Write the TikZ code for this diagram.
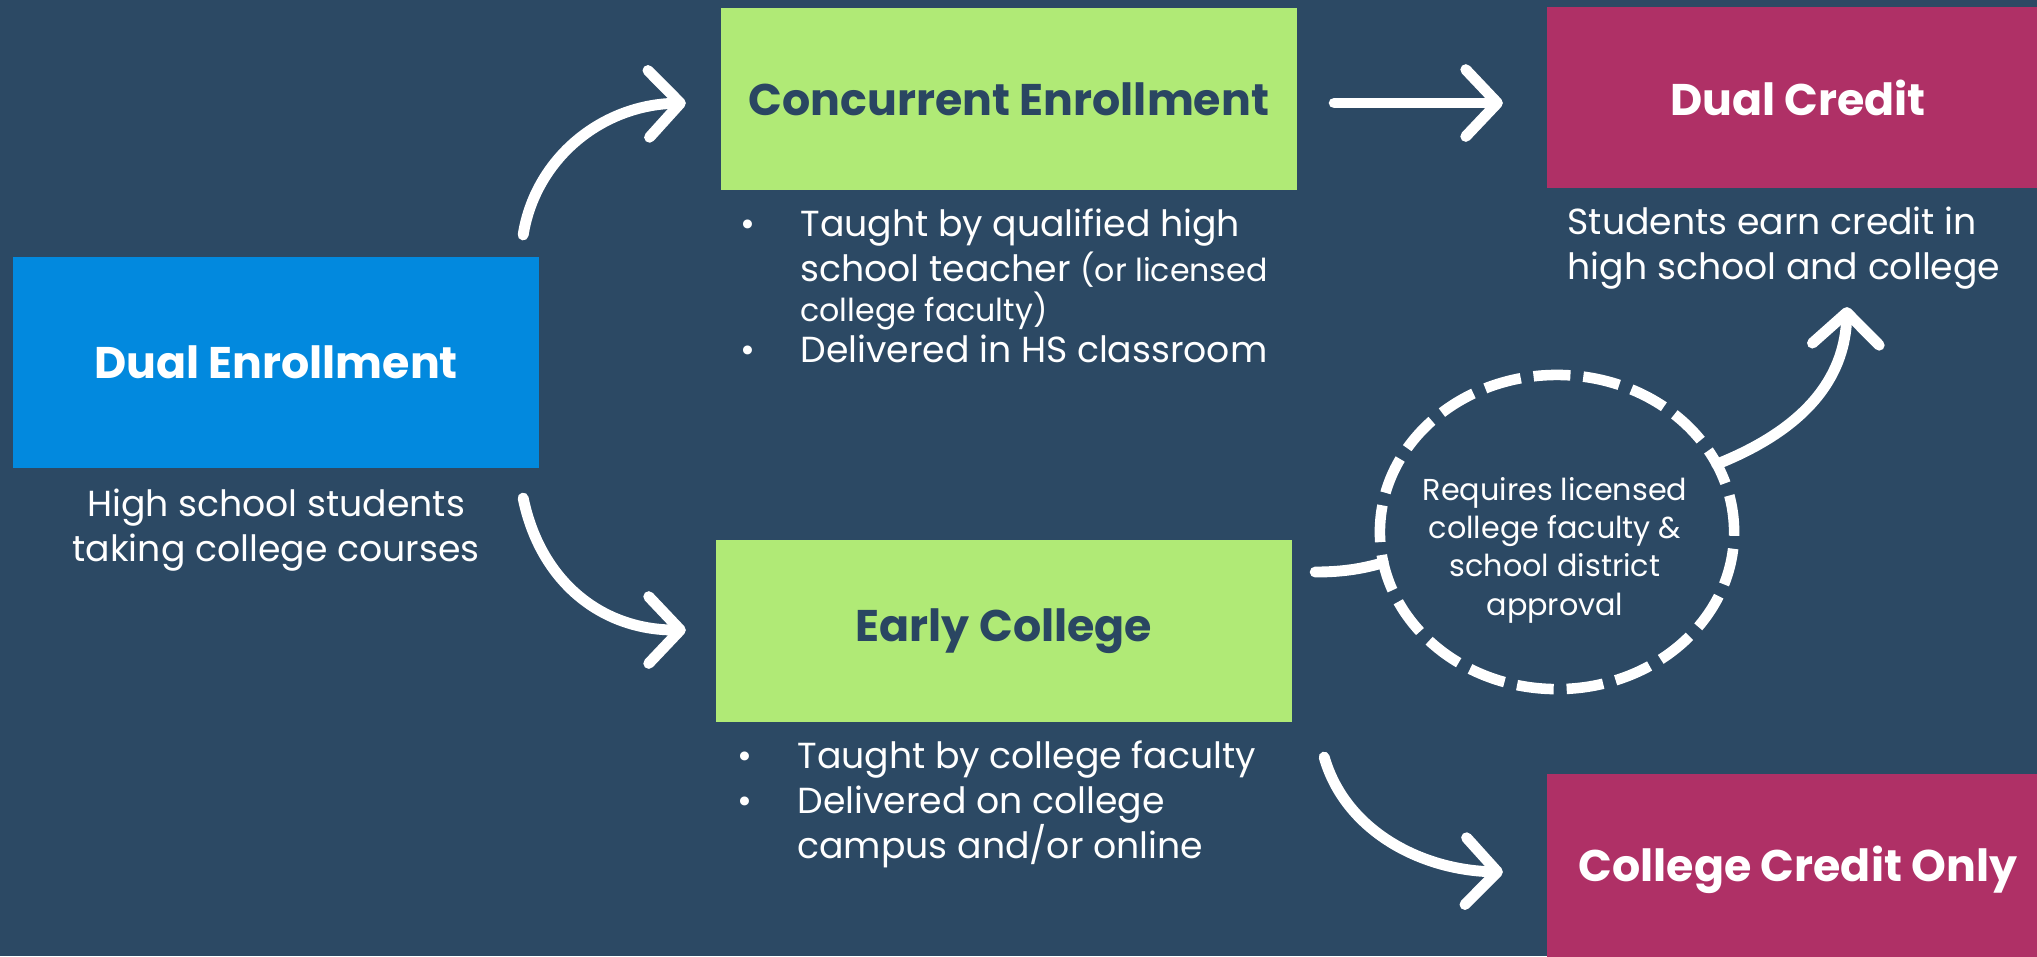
\documentclass[tikz,border=0pt]{standalone}
\usepackage{fontspec}
\setmainfont{Poppins}
\usetikzlibrary{arrows.meta}
\usetikzlibrary{shapes.geometric}
\usetikzlibrary{calc}

\begin{document}
\begin{tikzpicture}
	[x=0.01cm,y=-0.01cm,line cap=round,
	%Styles
	box/.style={inner sep=0pt,outer sep=0pt,minimum width=5.76cm,minimum height=1.82cm,
		font=\bfseries\fontsize{12.6}{15}\selectfont},
	start box/.style={box,fill=startblue,text=white,minimum width=5.26cm,minimum height=2.11cm},
	route box/.style={box,fill=routegreen,text=routetext},
	credit box/.style={box,fill=creditred,text=white,minimum width=5.02cm},
	info text/.style={text=white,inner sep=0pt,align=left,font=\fontsize{10.3}{12.8}\selectfont},
	note text/.style={text=white,inner sep=0pt,align=center,font=\fontsize{8.6}{10.9}\selectfont},
	flow/.style={white,line width=3.1pt,-{Straight Barb[length=9pt,width=19pt,round]}},
	link/.style={white,line width=3.1pt},
	gate/.style={ellipse,draw=white,line width=3pt,line cap=butt,dash pattern=on 10.5pt off 3.68pt,
		inner sep=0pt,outer sep=0pt,minimum width=3.54cm,minimum height=3.14cm}
	]
	
	%Colors
	\definecolor{backnavy}{RGB}{44,73,100}
	\definecolor{startblue}{RGB}{2,137,222}
	\definecolor{routegreen}{RGB}{176,234,118}
	\definecolor{routetext}{RGB}{42,70,98}
	\definecolor{creditred}{RGB}{175,48,102}
	
	%The graphic
	\useasboundingbox (0,0) rectangle (2037,956);
	\clip (0,0) rectangle (2037,956);
	\fill[backnavy] (0,0) rectangle (2037,956);
	
	\node[start box] (dual) at (276,362.5) {Dual Enrollment};
	\node[route box] (conc) at (1009,99) {Concurrent Enrollment};
	\node[route box] (early) at (1004,631) {Early College};
	\node[credit box,minimum height=1.81cm] (dualcredit) at (1798,97.5) {Dual Credit};
	\node[credit box,minimum height=1.92cm] (creditonly) at (1798,870) {College Credit Only};
	
	\node[info text,align=center,anchor=north] (dualtext) at (276,488)
		{High school students\\taking college courses};
	\node[info text,anchor=north west] (credittext) at (1567,206)
		{Students earn credit in\\high school and college};
	\node[info text,anchor=north west] (conctext) at (740,208)
		{\makebox[17pt][l]{•}Taught by qualified high\\
		\hspace*{17pt}school teacher {\fontsize{9}{11}\selectfont(or licensed}\\[-1.5pt]
		\hspace*{17pt}{\fontsize{9}{11}\selectfont college faculty)}\\[-1pt]
		\makebox[17pt][l]{•}Delivered in HS classroom};
	\node[info text,anchor=north west] (earlytext) at (737,740)
		{\makebox[17pt][l]{•}Taught by college faculty\\
		\makebox[17pt][l]{•}Delivered on college\\
		\hspace*{17pt}campus and/or online};
	
	\node[gate] (approval) at (1557,532) {};
	\node[note text] (approvaltext) at (1555,550)
		{Requires licensed\\college faculty \&\\school district\\approval};
	
	%Connectors
	\coordinate (upstart) at ($(dual.north east)+(-16,-22)$);
	\coordinate (uptip) at ($(conc.west)+(-35,4)$);
	\coordinate (downstart) at ($(dual.south east)+(-16,30)$);
	\coordinate (downtip) at ($(early.west)+(-30,-1)$);
	\coordinate (righttail) at ($(conc.east)+(37,4)$);
	\coordinate (righttip) at ($(dualcredit.west)+(-44,5.5)$);
	\coordinate (onlystart) at ($(early.south east)+(32,35)$);
	\coordinate (onlytip) at ($(creditonly.west)+(-44,2)$);
	\coordinate (gatestart) at ($(early.east)+(23,-59)$);
	\coordinate (gatetip) at ($(dualcredit.south)+(49,119)$);
	
	\draw[flow] (upstart) .. controls (535,160) and (600,105) .. (uptip);
	\draw[flow] (downstart) .. controls (540,580) and (600,630) .. (downtip);
	\draw[flow] (righttail) -- (righttip);
	\draw[flow] (onlystart) .. controls (1345,830) and (1420,870) .. (onlytip);
	\draw[link] (gatestart) .. controls (1345,572) and (1365,568) .. (approval.190);
	\draw[flow] (approval.23) .. controls (1815,425) and (1845,370) .. (gatetip);
\end{tikzpicture}
\end{document}
